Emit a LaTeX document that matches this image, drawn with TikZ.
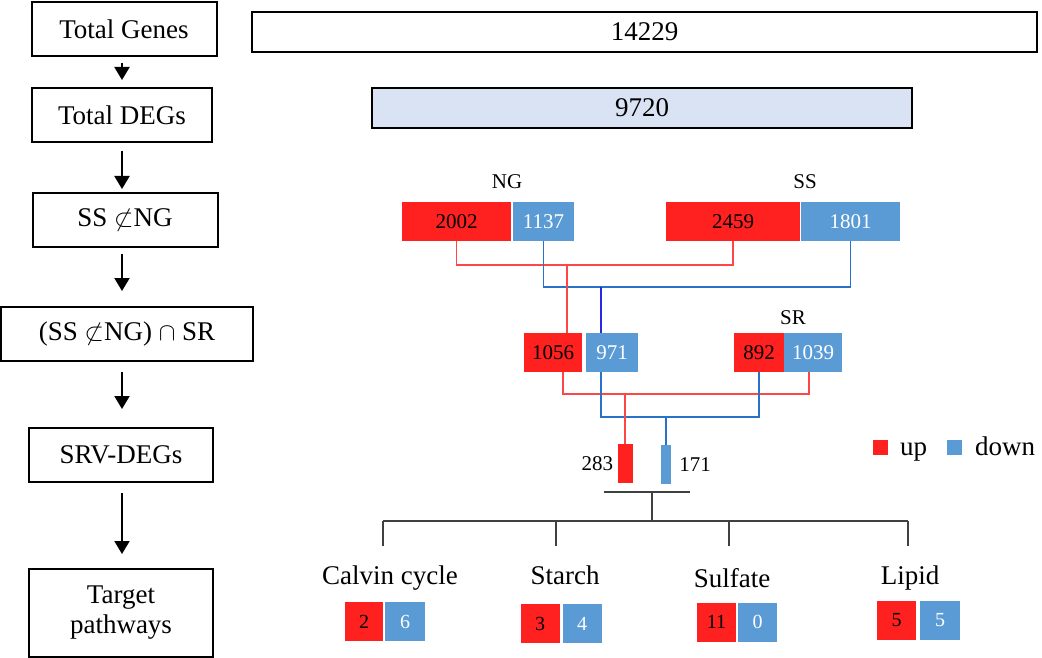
\documentclass[tikz,border=0pt]{standalone}
\usepackage{fontspec}
\setmainfont{Liberation Serif}
\usetikzlibrary{positioning,calc,arrows.meta}
\definecolor{upRed}{RGB}{255,32,32}
\definecolor{downBlue}{RGB}{91,155,213}
\definecolor{lineRed}{RGB}{255,70,70}
\definecolor{lineBlue}{RGB}{40,115,200}
\definecolor{lineDarkBlue}{RGB}{40,40,230}
\definecolor{treeGrey}{RGB}{64,64,64}
\definecolor{barFill}{RGB}{218,227,243}
\tikzset{
  stepBox/.style={
    rectangle,
    draw=black,
    line width=2pt,
    minimum width=185pt,
    minimum height=54pt,
    inner sep=0pt,
    align=center,
    font=\fontsize{27}{30}\selectfont
  },
  countBar/.style={
    rectangle,
    draw=black,
    line width=2pt,
    minimum height=40pt,
    inner sep=0pt,
    font=\fontsize{27}{32}\selectfont
  },
  upBox/.style={
    rectangle,
    fill=upRed,
    minimum height=39pt,
    inner sep=0pt,
    text=black,
    font=\fontsize{21}{24}\selectfont
  },
  downBox/.style={
    rectangle,
    fill=downBlue,
    minimum height=39pt,
    inner sep=0pt,
    text=white,
    font=\fontsize{21}{24}\selectfont
  },
  groupLabel/.style={inner sep=0pt, font=\fontsize{21}{24}\selectfont},
  pathLabel/.style={inner sep=0pt, font=\fontsize{27}{30}\selectfont},
  arrowLine/.style={
    -{Triangle[length=13pt,width=15pt]},
    line width=2pt,
    shorten <=6pt,
    shorten >=7pt
  },
  redLine/.style={draw=lineRed, line width=1.5pt},
  blueLine/.style={draw=lineBlue, line width=1.5pt},
  darkBlueLine/.style={draw=lineDarkBlue, line width=1.5pt},
  treeLine/.style={draw=treeGrey, line width=2pt}
}
\begin{document}
\begin{tikzpicture}[x=1pt,y=-1pt]
  \useasboundingbox (0,0) rectangle (1042,658);

  % left column of steps
  \node[stepBox] (genes) at (124,29) {Total Genes};
  \node[stepBox, minimum width=180pt] (degs) at (122,115) {Total DEGs};
  \node[stepBox] (ssng) at (125,220) {SS $\not\subset$NG};
  \node[stepBox, minimum width=252pt] (ssngsr) at (127,334) {(SS $\not\subset$NG) $\cap$ SR};
  \node[stepBox, minimum width=184pt] (srv) at (121,455) {SRV-DEGs};
  \node[stepBox, minimum width=184pt, minimum height=88pt] (target) at (121,613) {Target\\pathways};

  \draw[arrowLine] (genes.south -| 122,0) -- (degs.north -| 122,0);
  \draw[arrowLine, shorten <=8pt, shorten >=3pt] (degs.south -| 122,0) -- (ssng.north -| 122,0);
  \draw[arrowLine, shorten >=15pt] (ssng.south -| 122,0) -- (ssngsr.north -| 122,0);
  \draw[arrowLine, shorten <=10pt, shorten >=18pt] (ssngsr.south -| 122,0) -- (srv.north -| 122,0);
  \draw[arrowLine, shorten <=10pt, shorten >=14pt] (srv.south -| 122,0) -- (target.north -| 122,0);

  % totals
  \node[countBar, minimum width=785pt] (total) at (644.5,32) {14229};
  \node[countBar, fill=barFill, minimum width=540pt] (totalDeg) at (642,108) {9720};

  % NG and SS
  \node[groupLabel] (ngLabel) at (507,182) {NG};
  \node[groupLabel] (ssLabel) at (805,182) {SS};
  \node[upBox, minimum width=109pt] (ngUp) at (456.5,221.5) {2002};
  \node[downBox, minimum width=61pt] (ngDown) at (543.5,221.5) {1137};
  \node[upBox, minimum width=134pt] (ssUp) at (733,221.5) {2459};
  \node[downBox, minimum width=99pt] (ssDown) at (850.5,221.5) {1801};

  % SS not in NG, and SR
  \node[upBox, minimum width=58pt] (diffUp) at (553,352.5) {1056};
  \node[downBox, minimum width=52pt] (diffDown) at (612,352.5) {971};
  \node[groupLabel] (srLabel) at (793,318) {SR};
  \node[upBox, minimum width=50pt] (srUp) at (759,352.5) {892};
  \node[downBox, minimum width=58pt] (srDown) at (813,352.5) {1039};

  \draw[redLine] (ngUp.south) -- ++(0,24) -| (ssUp.south);
  \draw[blueLine] (ngDown.south) -- ++(0,46) -| (ssDown.south);
  \coordinate (redJoinA) at (567,265);
  \coordinate (blueJoinA) at (601,287);
  \draw[redLine] (redJoinA) -- (redJoinA |- diffUp.north);
  \draw[darkBlueLine] (blueJoinA) -- (blueJoinA |- diffDown.north);

  % SRV-DEGs
  \node[upBox, minimum width=15pt] (srvUp) at (625,463.5) {};
  \node[downBox, minimum width=10pt] (srvDown) at (666,464.5) {};
  \node[groupLabel, left=4pt of srvUp] (srvUpNum) {283};
  \node[groupLabel, right=8pt of srvDown] (srvDownNum) {171};

  \draw[redLine] ([xshift=10pt]diffUp.south) -- ++(0,22) -| ([xshift=-4pt]srDown.south);
  \draw[blueLine] ([xshift=-11pt]diffDown.south) -- ++(0,45) -| (srUp.south);
  \coordinate (redJoinB) at (625,394);
  \coordinate (blueJoinB) at (666,417);
  \draw[redLine] (redJoinB) -- (srvUp.north);
  \draw[blueLine] (blueJoinB) -- (srvDown.north);

  % legend
  \node[fill=upRed, minimum size=15pt, inner sep=0pt] (keyUp) at (880.5,447.5) {};
  \node[pathLabel, anchor=base west] (keyUpText) at (900,455) {up};
  \node[fill=downBlue, minimum size=15pt, inner sep=0pt] (keyDown) at (954.5,447.5) {};
  \node[pathLabel, anchor=base west] (keyDownText) at (975,455) {down};

  % tree to pathways
  \coordinate (baseL) at (604,492);
  \coordinate (baseR) at (690,492);
  \coordinate (hub) at (652,521);
  \draw[treeLine] (baseL) -- (baseR);
  \draw[treeLine] (hub |- baseL) -- (hub);
  \draw[treeLine] (383,521) -- (908,521);
  \foreach \dx in {383,556,729,908}
    \draw[treeLine] (\dx,521) -- (\dx,546);

  % pathways
  \node[pathLabel] (calvin) at (390,578) {Calvin cycle};
  \node[pathLabel] (starch) at (565,575) {Starch};
  \node[pathLabel] (sulfate) at (732,578) {Sulfate};
  \node[pathLabel] (lipid) at (910,578) {Lipid};

  \node[upBox, minimum width=38pt, font=\fontsize{20}{24}\selectfont] (calvinUp) at (364,621.5) {2};
  \node[downBox, minimum width=40pt, font=\fontsize{20}{24}\selectfont] (calvinDown) at (405,621.5) {6};
  \node[upBox, minimum width=39pt, font=\fontsize{20}{24}\selectfont] (starchUp) at (540,623.5) {3};
  \node[downBox, minimum width=39pt, font=\fontsize{20}{24}\selectfont] (starchDown) at (582,623.5) {4};
  \node[upBox, minimum width=39pt, font=\fontsize{20}{24}\selectfont] (sulfateUp) at (716.5,622) {11};
  \node[downBox, minimum width=39pt, font=\fontsize{20}{24}\selectfont] (sulfateDown) at (757.5,622) {0};
  \node[upBox, minimum width=39pt, font=\fontsize{20}{24}\selectfont] (lipidUp) at (896.5,620.5) {5};
  \node[downBox, minimum width=40pt, font=\fontsize{20}{24}\selectfont] (lipidDown) at (940,620.5) {5};
\end{tikzpicture}
\end{document}
